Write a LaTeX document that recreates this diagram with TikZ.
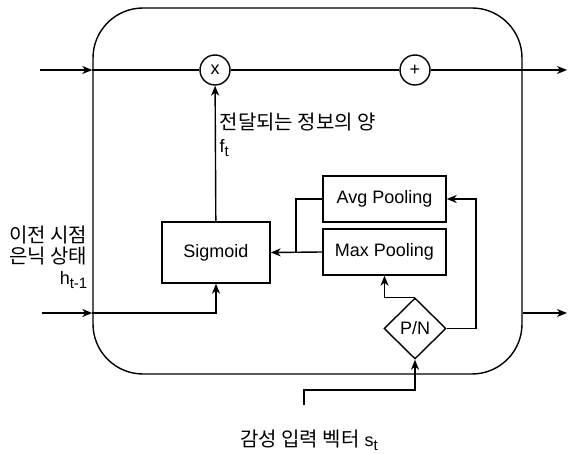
\documentclass[tikz,border=0pt]{standalone}
\usepackage{fontspec}
\setmainfont{Liberation Sans}
\newfontfamily\kr{Noto Sans CJK KR}
\usetikzlibrary{arrows.meta,shapes.geometric}
\newcommand\lowsub[1]{\raisebox{-0.4ex}{\fontsize{15}{15}\selectfont #1}}
\newcommand\kor[1]{{\kr\fontsize{20}{20}\selectfont #1}}
\begin{document}
\begin{tikzpicture}[x=1pt,y=-1pt,
  line width=1.4pt,
  arr/.style={-{Stealth[length=10pt,width=8pt,inset=3pt]}},
  box/.style={draw,rectangle,inner sep=0pt,font=\fontsize{18}{18}\selectfont},
  op/.style={draw,circle,minimum size=30pt,inner sep=0pt,font=\fontsize{18}{18}\selectfont},
  lbl/.style={inner sep=0pt,font=\fontsize{18}{21}\selectfont}]
\useasboundingbox (0,0) rectangle (571,454);
\node[draw,rectangle,rounded corners=50pt,minimum width=429pt,minimum height=366pt,inner sep=0pt] (cell) at (307.5,191) {};
\node[op] (mul) at (215,70) {x};
\node[op] (add) at (415,70) {+};
\node[box,minimum width=108pt,minimum height=61pt] (sig) at (216,252.5) {Sigmoid};
\node[box,minimum width=123pt,minimum height=46pt] (avg) at (384.5,199) {Avg Pooling};
\node[box,minimum width=123pt,minimum height=46pt] (max) at (384.5,252) {Max Pooling};
\node[draw,diamond,minimum width=62pt,minimum height=61pt,inner sep=0pt,font=\fontsize{18}{18}\selectfont] (pn) at (415,328.5) {P/N};
\coordinate (inT) at (40,70);
\coordinate (outT) at (567,70);
\coordinate (inB) at (42,313);
\coordinate (outB) at (567,313);
\coordinate (j) at (296,252);
\coordinate (r) at (476,328.5);
\coordinate (s0) at (304,405);
\coordinate (s1) at (304,390);
% top line
\draw[arr] (inT) -- (inT -| cell.west);
\draw (inT -| cell.west) -- (mul);
\draw (mul) -- (add);
\draw[arr] (add) -- (outT);
% bottom-left input
\draw[arr] (inB) -- (inB -| cell.west);
\draw[arr] (inB -| cell.west) -| (sig.south);
\draw[arr] (cell.east |- outB) -- (outB);
% sigmoid to multiply
\draw[arr] (sig) -- (mul);
% pooling to sigmoid
\draw (avg.west) -| (j);
\draw[arr] (max.west) -- (sig.east);
% P/N
\draw[arr] (pn.north) -| (max.south);
\draw[arr] (pn.east) -- (r) |- (avg.east);
\draw[arr] (s0) -- (s1) -| (pn.south);
% labels
\node[lbl,anchor=north west,align=left,font=\fontsize{18}{23}\selectfont] (ft) at (219,112) {\kor{전달되는 정보의 양}\\f\lowsub{t}};
\node[lbl,anchor=east,align=right,font=\fontsize{18}{21}\selectfont] (hprev) at (88,257) {\kor{이전 시점}\\\kor{은닉 상태}\\h\lowsub{t-1}};
\node[lbl] (st) at (309,440) {\kor{감성 입력 벡터} s\lowsub{t}};
\end{tikzpicture}
\end{document}
